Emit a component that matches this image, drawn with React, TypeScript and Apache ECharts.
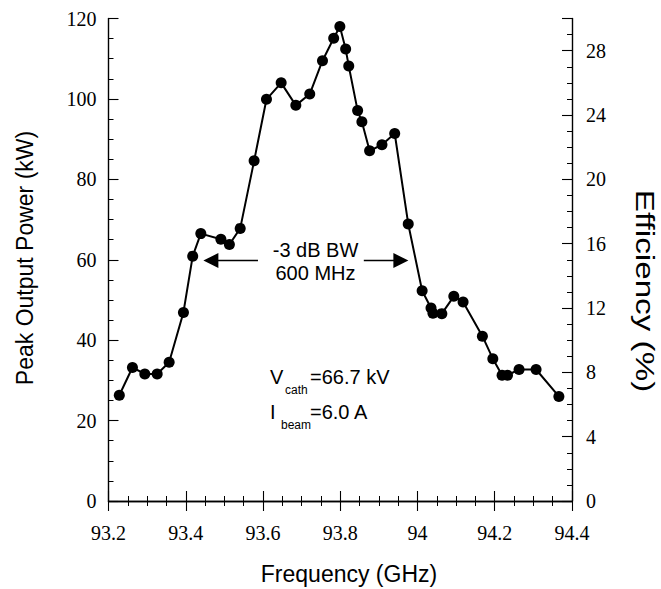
import React, { useEffect, useRef } from "react";
import * as echarts from "echarts";

// Frequency (GHz) of each measured point
const frequency = [
  93.228, 93.262, 93.294, 93.326, 93.357, 93.394, 93.418, 93.439, 93.491, 93.513,
  93.541, 93.577, 93.609, 93.647, 93.685, 93.721, 93.754, 93.783, 93.799, 93.814,
  93.822, 93.845, 93.856, 93.876, 93.908, 93.941, 93.976, 94.012, 94.035, 94.040,
  94.063, 94.094, 94.118, 94.168, 94.195, 94.219, 94.233, 94.263, 94.307, 94.366,
];
// Peak output power (kW)
const power = [
  26.3, 33.2, 31.6, 31.6, 34.5, 46.9, 60.9, 66.5, 65.1, 63.8,
  67.8, 84.6, 99.9, 104.0, 98.4, 101.2, 109.5, 115.1, 118.0, 112.4,
  108.2, 97.1, 94.3, 87.1, 88.6, 91.4, 68.9, 52.3, 48.0, 46.7,
  46.6, 50.9, 49.5, 41.0, 35.4, 31.3, 31.3, 32.7, 32.7, 26.0,
];
// -3 dB bandwidth arrows: [tail frequency, head frequency], at power level
const bwArrowLeft = [93.587, 93.465];
const bwArrowRight = [93.861, 93.957];
const bwArrowLevel = 59.8;

const SERIF = "Liberation Serif";
const SANS = "Liberation Sans";

function txt(text: string, x: number, y: number, size: number, align = "left", rotation = 0, scaleX = 1) {
  return {
    type: "text",
    x,
    y,
    rotation,
    scaleX,
    style: { text, fontFamily: SANS, fontSize: size, fill: "#000", align, verticalAlign: "middle" },
  };
}

export default function App() {
  const ref = useRef<HTMLDivElement>(null);
  useEffect(() => {
    if (!ref.current) return;
    const chart = echarts.init(ref.current, undefined, { renderer: "svg" });
    const axisLine = { show: true, lineStyle: { color: "#000", width: 1.4 } };
    const tick = { show: true, inside: true, length: 10, lineStyle: { color: "#000", width: 1.1 } };
    const minor = { show: true, splitNumber: 4, length: 5, lineStyle: { color: "#000", width: 1 } };
    const label = { color: "#000", fontFamily: SERIF, fontSize: 20 };
    chart.setOption({
      animation: false,
      backgroundColor: "#fff",
      grid: { left: 108.5, right: 89, top: 18.5, bottom: 88, show: false },
      xAxis: [
        {
          type: "value", min: 93.2, max: 94.4, interval: 0.2, position: "bottom",
          axisLine, axisTick: tick, minorTick: minor, splitLine: { show: false }, minorSplitLine: { show: false },
          axisLabel: { ...label, margin: 22 },
        },
        {
          type: "value", min: 93.2, max: 94.4, interval: 0.2, position: "top",
          axisLine, axisTick: tick, minorTick: minor, splitLine: { show: false },
          axisLabel: { show: false },
        },
      ],
      yAxis: [
        {
          type: "value", min: 0, max: 120, interval: 20, position: "left",
          axisLine, axisTick: tick, minorTick: minor, splitLine: { show: false },
          axisLabel: { ...label, margin: 12 },
        },
        {
          type: "value", min: 0, max: 30, interval: 4, position: "right",
          axisLine, axisTick: tick, minorTick: minor, splitLine: { show: false },
          axisLabel: { ...label, margin: 14, formatter: (v: number) => (v > 28 ? "" : String(v)) },
        },
      ],
      series: [
        {
          type: "line",
          xAxisIndex: 0,
          yAxisIndex: 0,
          data: frequency.map((f, i) => [f, power[i]]),
          symbol: "circle",
          symbolSize: 11,
          itemStyle: { color: "#000" },
          lineStyle: { color: "#000", width: 2 },
          markLine: {
            silent: true,
            symbol: ["none", "triangle"],
            symbolSize: 15,
            lineStyle: { color: "#000", width: 1.4, type: "solid" },
            label: { show: false },
            data: [
              [{ coord: [bwArrowLeft[0], bwArrowLevel] }, { coord: [bwArrowLeft[1], bwArrowLevel] }],
              [{ coord: [bwArrowRight[0], bwArrowLevel] }, { coord: [bwArrowRight[1], bwArrowLevel] }],
            ],
          },
        },
      ],
      graphic: [
        txt("Frequency (GHz)", 349, 574, 23, "center"),
        txt("Peak Output Power (kW)", 25, 258, 23, "center", Math.PI / 2),
        txt("Efficiency (%)", 645, 291, 25, "center", -Math.PI / 2, 1.33),
        txt("-3 dB BW", 315.5, 250, 20, "center"),
        txt("600 MHz", 315.5, 273, 20, "center"),
        txt("V", 270, 377, 20),
        txt("cath", 285, 390, 12),
        txt("=66.7 kV", 310, 377, 20),
        txt("I", 270, 411.5, 20),
        txt("beam", 281, 425, 12),
        txt("=6.0 A", 310, 411.5, 20),
      ],
    });
    return () => chart.dispose();
  }, []);
  return (
    <div
      ref={ref}
      style={{ position: "fixed", left: 0, top: 0, width: 661, height: 589, background: "#fff" }}
    />
  );
}
